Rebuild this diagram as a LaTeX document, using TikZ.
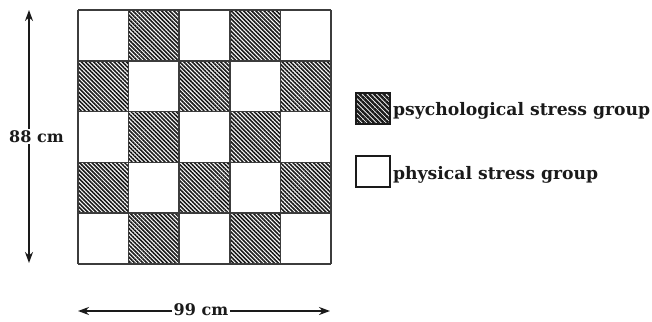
\documentclass[tikz,border=0pt]{standalone}
\usepackage{fontspec}
\setmainfont{DejaVu Serif}
\usetikzlibrary{patterns.meta,arrows.meta}
\definecolor{ink}{HTML}{1A1A1A}
\tikzset{
  gridline/.style={draw=ink!85, line width=1.6pt},
  hatchcell/.style={pattern={Lines[angle=-45,distance=2.9pt,line width=1.6pt]}, pattern color=ink},
  dimarrow/.style={draw=ink, line width=2.2pt, -{Stealth[length=11pt,width=8pt]}},
  dimlabel/.style={font=\fontsize{16}{18}\selectfont\bfseries, text=ink, inner sep=1.5pt},
  legendbox/.style={draw=ink, line width=2pt, minimum width=34pt, minimum height=31pt, inner sep=0pt},
  legendtext/.style={font=\fontsize{17.2}{19}\selectfont\bfseries, text=ink, inner sep=0pt, anchor=base west}
}
\begin{document}
\begin{tikzpicture}[x=1pt,y=-1pt]
\useasboundingbox (0,0) rectangle (652,321);
\fill[white] (0,0) rectangle (652,321);
% checkerboard
\foreach \r in {0,...,4} {
  \foreach \c in {0,...,4} {
    \pgfmathtruncatemacro{\odd}{mod(\r+\c,2)}
    \ifnum\odd=1
      \fill[hatchcell] ({78+\c*50.6},{10+\r*50.8}) rectangle ({78+(\c+1)*50.6},{10+(\r+1)*50.8});
    \fi
  }
}
\foreach \i in {0,...,5} {
  \draw[gridline] ({78+\i*50.6},10) -- ({78+\i*50.6},264);
  \draw[gridline] (78,{10+\i*50.8}) -- (331,{10+\i*50.8});
}
% vertical dimension
\coordinate (vtop) at (29,10);
\coordinate (vbot) at (29,263);
\node[dimlabel] (l88) at (36.5,136.5) {88 cm};
\draw[dimarrow] (vtop |- l88.north) -- (vtop);
\draw[dimarrow] (vbot |- l88.south) -- (vbot);
% horizontal dimension
\coordinate (hleft) at (78,311);
\coordinate (hright) at (330,311);
\node[dimlabel] (l99) at (201,310) {99 cm};
\draw[dimarrow] (l99.west |- hleft) -- (hleft);
\draw[dimarrow] (l99.east |- hright) -- (hright);
% legend
\node[legendbox, pattern={Lines[angle=-45,distance=3.4pt,line width=2.4pt]}, pattern color=ink] (lg1) at (373,108.5) {};
\node[legendtext] (t1) at (393,115) {psychological stress group};
\node[legendbox] (lg2) at (373,171.5) {};
\node[legendtext] (t2) at (393,179) {physical stress group};
\end{tikzpicture}
\end{document}
